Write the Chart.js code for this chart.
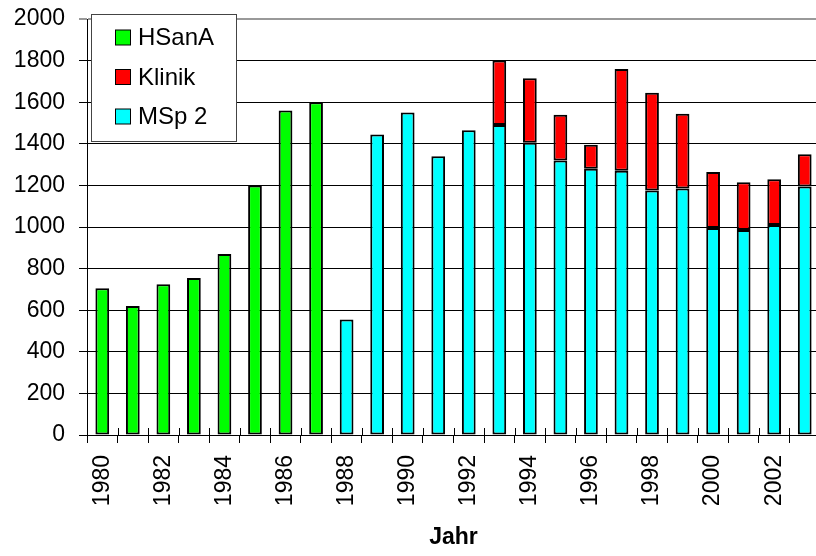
<!DOCTYPE html>
<html>
<head>
<meta charset="utf-8">
<script src="https://cdn.jsdelivr.net/npm/chart.js@4/dist/chart.umd.min.js"></script>
<style>
  html, body { margin: 0; padding: 0; background: #fff; overflow: hidden; }
  #wrap { width: 816px; height: 556px; overflow: hidden; }
  canvas { display: block; }
</style>
</head>
<body>
<div id="wrap"><canvas id="c" width="820" height="556"></canvas></div>
<script>
// Jahre (Kategorien)
const years = ['1980','1981','1982','1983','1984','1985','1986','1987','1988','1989','1990','1991',
               '1992','1993','1994','1995','1996','1997','1998','1999','2000','2001','2002','2003'];

// Fallzahlen je Einrichtung
const hsana  = [705, 620, 725, 755, 870, 1200, 1560, 1600,
                null, null, null, null, null, null, null, null, null, null, null, null, null, null, null, null];
const msp2   = [null, null, null, null, null, null, null, null,
                555, 1445, 1550, 1340, 1465, 1490, 1405, 1320, 1280, 1270, 1175, 1185, 995, 985, 1010, 1195];
const klinik = [null, null, null, null, null, null, null, null, null, null, null, null, null,
                310, 310, 220, 115, 490, 470, 360, 270, 230, 220, 155];

// Achse
const yMin = 0, yMax = 2000, yStep = 200;
const legendOrder = ['HSanA', 'Klinik', 'MSp 2'];

const FONT = "'Liberation Sans', Arial, sans-serif";

// Legende als Kasten innerhalb der Zeichenfläche
const boxLegend = {
  id: 'boxLegend',
  afterDraw(chart) {
    const ctx = chart.ctx;
    const x0 = 91.5, y0 = 14.5, w = 145, h = 127;
    ctx.save();
    ctx.fillStyle = '#fff';
    ctx.fillRect(x0, y0, w, h);
    ctx.strokeStyle = '#444';
    ctx.lineWidth = 1;
    ctx.strokeRect(x0, y0, w, h);
    ctx.font = '24px ' + FONT;
    ctx.textBaseline = 'middle';
    ctx.textAlign = 'left';
    legendOrder.forEach((name, i) => {
      const ds = chart.data.datasets.find(d => d.label === name);
      const cy = 37.5 + i * 39.5;
      ctx.fillStyle = ds.backgroundColor;
      ctx.fillRect(115.5, cy - 7.5, 15, 15);
      ctx.strokeStyle = '#000';
      ctx.strokeRect(115.5, cy - 7.5, 15, 15);
      ctx.fillStyle = '#000';
      ctx.fillText(ds.label, 138, cy + 1);
    });
    ctx.restore();
  }
};

// Teilstriche der Kategorieachse, die die Achse nach oben kreuzen
const crossTicks = {
  id: 'crossTicks',
  afterDatasetsDraw(chart) {
    const xs = chart.scales.x;
    const ctx = chart.ctx;
    ctx.save();
    ctx.strokeStyle = '#000';
    ctx.lineWidth = 1;
    ctx.beginPath();
    for (let i = 0; i <= years.length; i++) {
      const px = Math.round(xs.getPixelForValue(i - 0.5)) + 0.5;
      ctx.moveTo(px, xs.top - 7);
      ctx.lineTo(px, xs.top);
    }
    ctx.stroke();
    ctx.restore();
  }
};

const barStyle = { borderColor: '#000', borderWidth: 2, borderSkipped: false,
                   barPercentage: 0.45, categoryPercentage: 1.0 };

new Chart(document.getElementById('c'), {
  type: 'bar',
  data: {
    labels: years,
    datasets: [
      Object.assign({ label: 'HSanA', data: hsana,  backgroundColor: '#00FF00' }, barStyle),
      Object.assign({ label: 'MSp 2', data: msp2,   backgroundColor: '#00FFFF' }, barStyle),
      Object.assign({ label: 'Klinik', data: klinik, backgroundColor: '#FF0000' }, barStyle)
    ]
  },
  options: {
    responsive: false,
    devicePixelRatio: 1,
    animation: false,
    layout: { padding: { top: 19, left: 0, right: 0, bottom: 0 } },
    plugins: { legend: { display: false }, tooltip: { enabled: false } },
    scales: {
      x: {
        stacked: true,
        offset: true,
        afterFit(scale) {
          scale.height = 121;
          scale.paddingLeft = 0;
          scale.paddingRight = 0;
        },
        grid: { offset: true, drawOnChartArea: false, drawTicks: true, tickLength: 8, color: '#000', lineWidth: 1 },
        border: { color: '#000', width: 1 },
        ticks: {
          autoSkip: false, minRotation: 90, maxRotation: 90, padding: 12,
          color: '#000', font: { family: FONT, size: 23 },
          callback: (v, i) => (i % 2 === 0 ? years[i] : '')
        },
        title: { display: true, text: 'Jahr', color: '#000',
                 font: { family: FONT, size: 23, weight: 'bold' }, padding: { top: 0, bottom: 5 } }
      },
      y: {
        stacked: true,
        min: yMin, max: yMax,
        afterFit(scale) {
          scale.width = 87;
          scale.paddingTop = 0;
          scale.paddingBottom = 0;
        },
        grid: {
          color: ctx => (ctx.tick && ctx.tick.value === yMax ? '#999' : '#000'),
          lineWidth: ctx => (ctx.tick && ctx.tick.value === yMax ? 2 : 1),
          tickLength: 8
        },
        border: { color: '#000', width: 1 },
        ticks: { stepSize: yStep, padding: 14, color: '#000', font: { family: FONT, size: 23 },
                 callback: v => String(v) }
      }
    }
  },
  plugins: [crossTicks, boxLegend]
});
</script>
</body>
</html>
